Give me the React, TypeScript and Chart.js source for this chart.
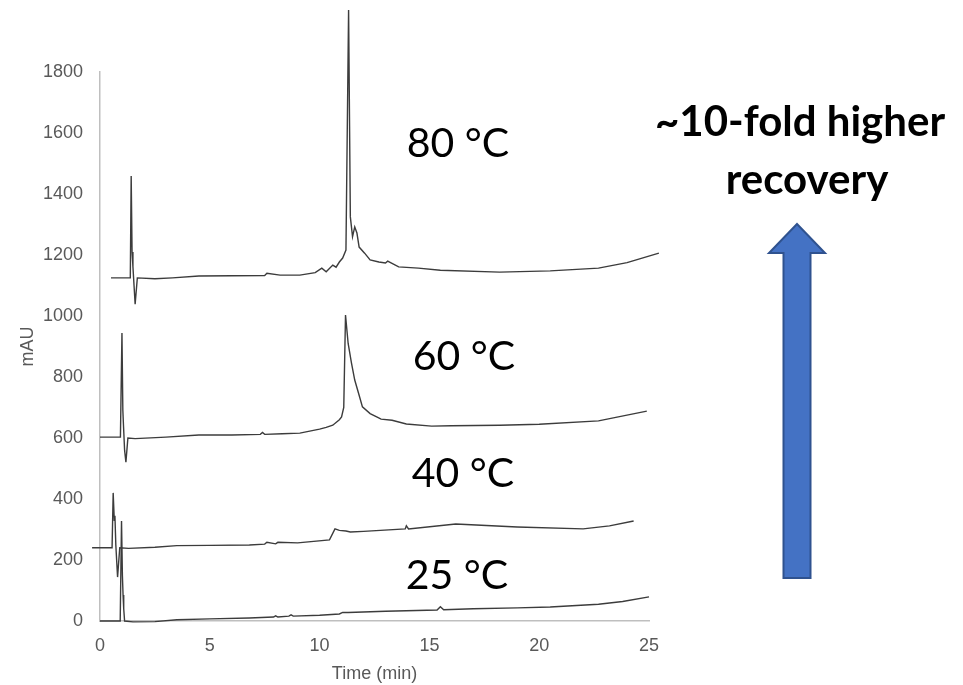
import React, { useEffect, useRef } from "react";
import { Chart, registerables } from "chart.js";

Chart.register(...registerables);

// Axis ticks
const xTicks = [0, 5, 10, 15, 20, 25];
const yTicks = [0, 200, 400, 600, 800, 1000, 1200, 1400, 1600, 1800];

// 25 °C trace
const t25 = [0, 0.92, 0.98, 1.02, 1.05, 1.08, 1.12, 1.5, 2.5, 3.5, 5, 6.8, 7.9, 8.0, 8.1, 8.6, 8.7, 8.8, 10, 10.9, 11.05, 11.3, 13, 15.35, 15.5, 15.65, 17, 19, 20.5, 22.7, 23.8, 25];
const v25 = [0, 0, 328, 150, 85, 40, 0, -3, -2, 4, 7, 10, 13, 17, 13, 16, 20, 16, 19, 23, 28, 28, 32, 36, 47, 37, 40, 43, 46, 55, 64, 79];

// 40 °C trace
const t40 = [-0.36, 0.55, 0.6, 0.65, 0.68, 0.72, 0.8, 0.9, 1.3, 2.5, 3.5, 5, 6.8, 7.5, 7.6, 8, 8.1, 9, 10.45, 10.7, 10.9, 11.2, 11.4, 12, 13.9, 13.95, 14.05, 16.2, 19, 22, 23.2, 24.3];
const v40 = [240, 240, 420, 330, 345, 250, 144, 240, 238, 242, 247, 248, 249, 252, 258, 253, 258, 256, 266, 302, 297, 295, 292, 294, 302, 312, 302, 318, 308, 302, 312, 328];

// 60 °C trace
const t60 = [0, 0.93, 1.0, 1.04, 1.07, 1.12, 1.18, 1.27, 1.6, 3, 4.5, 6, 7.3, 7.4, 7.5, 8.3, 9.1, 10, 10.3, 10.6, 10.9, 11.0, 11.1, 11.18, 11.3, 11.45, 11.6, 11.8, 11.95, 12.3, 12.6, 12.8, 13.3, 13.95, 15.1, 16, 18.2, 20, 22.7, 24.9];
const v60 = [603, 603, 944, 692, 640, 560, 521, 600, 598, 603, 610, 610, 612, 618, 612, 614, 616, 629, 635, 642, 660, 669, 700, 1003, 910, 846, 790, 740, 702, 680, 669, 662, 658, 646, 639, 640, 642, 645, 656, 688];

// 80 °C trace
const t80 = [0.5, 1.38, 1.42, 1.46, 1.5, 1.55, 1.6, 1.7, 2.5, 3.3, 4.5, 6, 7.5, 7.6, 8.2, 9.1, 9.8, 10.1, 10.3, 10.6, 10.75, 10.9, 11.05, 11.2, 11.32, 11.4, 11.5, 11.6, 11.7, 11.8, 12.05, 12.3, 12.7, 13.0, 13.1, 13.6, 14.5, 15.5, 18.2, 20.5, 22.7, 24, 25.45];
const v80 = [1125, 1125, 1459, 1210, 1161, 1100, 1039, 1125, 1122, 1125, 1131, 1132, 1133, 1140, 1134, 1134, 1142, 1157, 1145, 1167, 1160, 1177, 1190, 1216, 2003, 1325, 1260, 1292, 1272, 1226, 1206, 1184, 1177, 1174, 1180, 1161, 1157, 1150, 1144, 1148, 1157, 1175, 1206];

const tempLabels = ["25 °C", "40 °C", "60 °C", "80 °C"];
const headline = ["~10-fold higher", "recovery"];

const TICK_FONT = "'Liberation Sans', Arial, sans-serif";
const TICK_COLOR = "#595959";
const AXIS_COLOR = "#bfbfbf";
const LINE_COLOR = "#3c3c3c";

const annotationPlugin = {
  id: "annotations",
  afterDraw(chart: any) {
    const ctx = chart.ctx as CanvasRenderingContext2D;
    ctx.save();
    // temperature labels
    ctx.fillStyle = "#000";
    ctx.textAlign = "center";
    ctx.textBaseline = "alphabetic";
    ctx.font = "41px Lato, 'Open Sans', sans-serif";
    const labelPos: [number, number][] = [
      [457, 589],
      [463, 487],
      [464, 370],
      [458, 157],
    ];
    tempLabels.forEach((s, i) => ctx.fillText(s, labelPos[i][0], labelPos[i][1]));
    // headline
    ctx.font = "bold 42px Lato, 'Open Sans', sans-serif";
    ctx.fillText(headline[0], 800, 136);
    ctx.fillText(headline[1], 807, 194);
    // arrow
    const cx = 797;
    const tipY = 224;
    const baseY = 253;
    const headHalf = 28;
    const shaftHalf = 13.5;
    const bottom = 578;
    ctx.beginPath();
    ctx.moveTo(cx, tipY);
    ctx.lineTo(cx + headHalf, baseY);
    ctx.lineTo(cx + shaftHalf, baseY);
    ctx.lineTo(cx + shaftHalf, bottom);
    ctx.lineTo(cx - shaftHalf, bottom);
    ctx.lineTo(cx - shaftHalf, baseY);
    ctx.lineTo(cx - headHalf, baseY);
    ctx.closePath();
    ctx.fillStyle = "#4472c4";
    ctx.fill();
    ctx.lineWidth = 2;
    ctx.strokeStyle = "#2f528f";
    ctx.lineJoin = "miter";
    ctx.stroke();
    ctx.restore();
  },
};

export default function App() {
  const ref = useRef<HTMLCanvasElement>(null);
  useEffect(() => {
    if (!ref.current) return;
    const mk = (t: number[], v: number[]) => t.map((x, i) => ({ x, y: v[i] }));
    const ds = (label: string, t: number[], v: number[]) => ({
      label,
      data: mk(t, v),
      borderColor: LINE_COLOR,
      backgroundColor: LINE_COLOR,
      borderWidth: 1.4,
      pointRadius: 0,
      tension: 0,
      fill: false,
      clip: false as any,
    });
    const chart = new Chart(ref.current, {
      type: "line",
      data: {
        datasets: [
          ds(tempLabels[0], t25, v25),
          ds(tempLabels[1], t40, v40),
          ds(tempLabels[2], t60, v60),
          ds(tempLabels[3], t80, v80),
        ],
      },
      options: {
        animation: false,
        responsive: false,
        plugins: { legend: { display: false }, tooltip: { enabled: false } },
        layout: { padding: { left: 0, right: 314, top: 72, bottom: 0 } },
        scales: {
          x: {
            type: "linear",
            min: 0,
            max: 25,
            afterFit: (s: any) => {
              s.height = 64;
            },
            afterBuildTicks: (s: any) => {
              s.ticks = xTicks.map((value) => ({ value }));
            },
            grid: { display: false, drawTicks: false },
            border: { display: true, color: AXIS_COLOR, width: 1.5 },
            ticks: {
              font: { family: TICK_FONT, size: 18 },
              color: TICK_COLOR,
              padding: 14,
              maxRotation: 0,
              callback: (v: any) => String(v),
            },
            title: {
              display: true,
              text: "Time (min)",
              font: { family: TICK_FONT, size: 18 },
              color: TICK_COLOR,
              padding: { top: 0, bottom: 0 },
            },
          },
          y: {
            type: "linear",
            min: 0,
            max: 1800,
            afterFit: (s: any) => {
              s.width = 100;
            },
            afterBuildTicks: (s: any) => {
              s.ticks = yTicks.map((value) => ({ value }));
            },
            grid: { display: false, drawTicks: false },
            border: { display: true, color: AXIS_COLOR, width: 1.5 },
            ticks: {
              font: { family: TICK_FONT, size: 18 },
              color: TICK_COLOR,
              padding: 17,
              callback: (v: any) => String(v),
            },
            title: {
              display: true,
              text: "mAU",
              font: { family: TICK_FONT, size: 18 },
              color: TICK_COLOR,
              padding: { top: 17, bottom: 0 },
            },
          },
        },
      },
      plugins: [annotationPlugin],
    });
    return () => chart.destroy();
  }, []);
  return (
    <div style={{ position: "fixed", left: 0, top: 0, width: 963, height: 685, background: "#fff" }}>
      <canvas ref={ref} width={963} height={685} style={{ display: "block", width: 963, height: 685 }} />
    </div>
  );
}
